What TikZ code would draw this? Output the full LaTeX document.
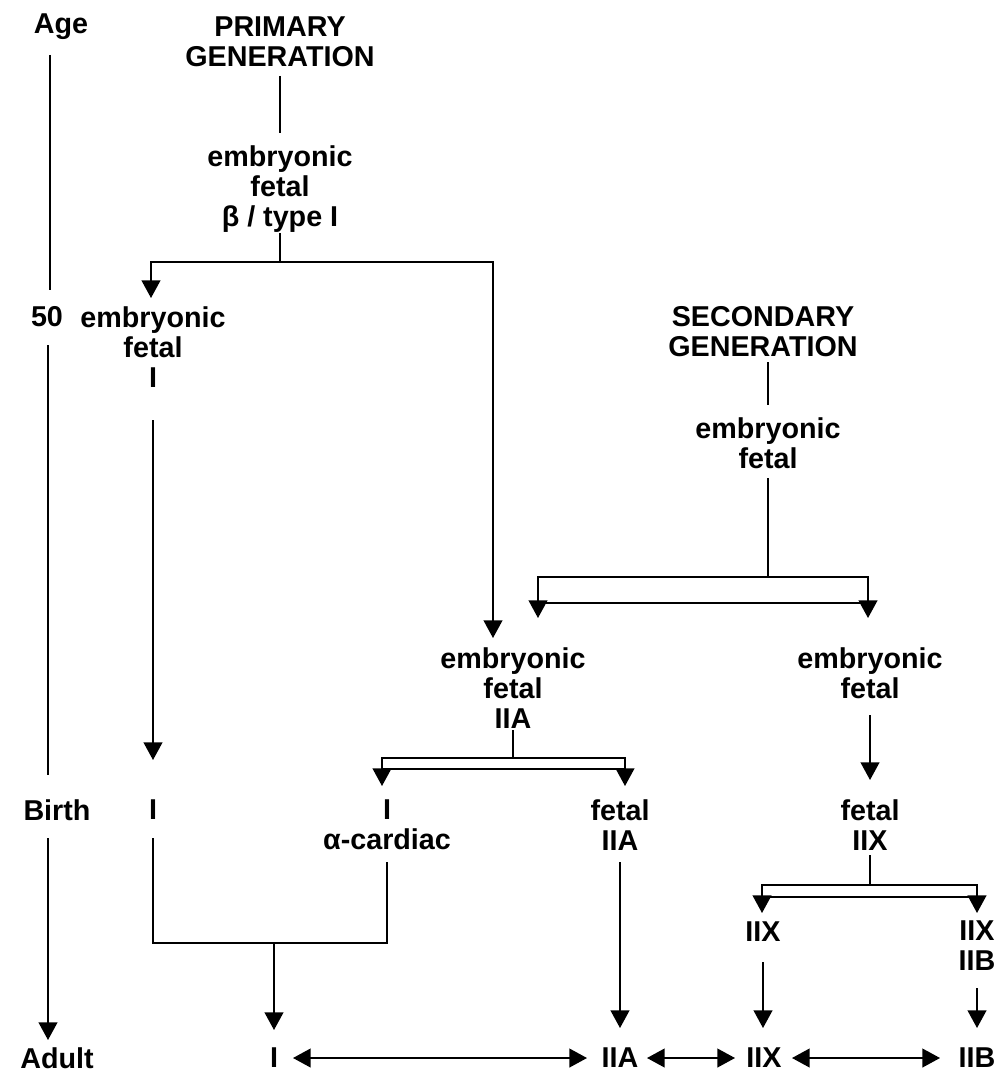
\documentclass[tikz,border=0pt]{standalone}
\usepackage{fontspec}
\setmainfont{Liberation Sans}
\usetikzlibrary{arrows.meta}
\begin{document}
\begin{tikzpicture}[x=0.03cm,y=-0.03cm,
  t/.style={inner sep=0pt, align=center, font=\fontsize{24.5}{25.6}\selectfont\bfseries},
  ln/.style={line width=1.3pt},
  ar/.style={line width=1.3pt, -{Triangle[width=16pt,length=15pt]}},
  dar/.style={line width=1.3pt, {Triangle[width=16pt,length=15pt]}-{Triangle[width=16pt,length=15pt]}}]
\useasboundingbox (0,0) rectangle (1000,1076);
% text nodes
\node[t] (age) at (61,27) {Age};
\node[t] (n50) at (47,317) {50};
\node[t] (birth) at (57,810) {Birth};
\node[t] (adult) at (57,1058) {Adult};
\node[t] (prim) at (280,42) {PRIMARY\\GENERATION};
\node[t] (pe) at (280,189) {embryonic\\fetal\\β / type I};
\node[t] (e1) at (153,347) {embryonic\\fetal\\I};
\node[t] (sec) at (763,332) {SECONDARY\\GENERATION};
\node[t] (se) at (768,443) {embryonic\\fetal};
\node[t] (e2a) at (513,688) {embryonic\\fetal\\IIA};
\node[t] (e2x) at (870,673) {embryonic\\fetal};
\node[t] (bI) at (153,810) {I};
\node[t] (bIa) at (387,825) {I\\α-cardiac};
\node[t] (bA) at (620,825) {fetal\\IIA};
\node[t] (bX) at (870,825) {fetal\\IIX};
\node[t] (x1) at (763,932) {IIX};
\node[t] (x2) at (977,946) {IIX\\IIB};
\node[t] (aI) at (274,1058) {I};
\node[t] (aA) at (620,1058) {IIA};
\node[t] (aX) at (764,1058) {IIX};
\node[t] (aB) at (977,1058) {IIB};
% coordinates
\coordinate (ageT) at (50,55); \coordinate (ageB) at (50,290);
\coordinate (fT) at (48,345); \coordinate (fB) at (48,775);
\coordinate (bT) at (48,838); \coordinate (bB) at (48,1040);
\coordinate (pT) at (280,76); \coordinate (pB) at (280,133);
\coordinate (peB) at (280,233); \coordinate (peJ) at (280,262);
\coordinate (peL) at (151,262); \coordinate (peLt) at (151,298);
\coordinate (peR) at (493,262); \coordinate (peRt) at (493,638);
\coordinate (c1T) at (153,420); \coordinate (c1B) at (153,760);
\coordinate (sT) at (768,362); \coordinate (sB) at (768,405);
\coordinate (seB) at (768,478); \coordinate (seJ) at (768,577);
\coordinate (b1L) at (538,577); \coordinate (b1R) at (868,577);
\coordinate (b1Lt) at (538,618); \coordinate (b1Rt) at (868,618);
\coordinate (b1L2) at (538,603); \coordinate (b1R2) at (868,603);
\coordinate (rxT) at (870,715); \coordinate (rxB) at (870,780);
\coordinate (iaT) at (513,730); \coordinate (iaJ) at (513,758);
\coordinate (b2L) at (382,758); \coordinate (b2R) at (625,758);
\coordinate (b2Lt) at (382,786); \coordinate (b2Rt) at (625,786);
\coordinate (b2L2) at (382,769); \coordinate (b2R2) at (625,769);
\coordinate (iT) at (153,838); \coordinate (iC) at (153,943);
\coordinate (aC) at (387,943); \coordinate (aT) at (387,862);
\coordinate (mJ) at (274,943); \coordinate (mB) at (274,1030);
\coordinate (fiT) at (620,862); \coordinate (fiB) at (620,1028);
\coordinate (xT) at (870,855); \coordinate (xJ) at (870,885);
\coordinate (b3L) at (762,885); \coordinate (b3R) at (977,885);
\coordinate (b3Lt) at (762,913); \coordinate (b3Rt) at (977,913);
\coordinate (b3L2) at (762,897); \coordinate (b3R2) at (977,897);
\coordinate (x1T) at (763,962); \coordinate (x1B) at (763,1028);
\coordinate (x2T) at (977,988); \coordinate (x2B) at (977,1028);
\coordinate (h1a) at (293,1058); \coordinate (h1b) at (587,1058);
\coordinate (h2a) at (647,1058); \coordinate (h2b) at (735,1058);
\coordinate (h3a) at (792,1058); \coordinate (h3b) at (940,1058);
% connectors
\draw[ln] (ageT) -- (ageB);
\draw[ln] (fT) -- (fB);
\draw[ar] (bT) -- (bB);
\draw[ln] (pT) -- (pB);
\draw[ln] (peB) -- (peJ);
\draw[ar] (peJ) -- (peL) -- (peLt);
\draw[ar] (peJ) -- (peR) -- (peRt);
\draw[ar] (c1T) -- (c1B);
\draw[ln] (sT) -- (sB);
\draw[ln] (seB) -- (seJ);
\draw[ar] (seJ) -- (b1L) -- (b1Lt);
\draw[ar] (seJ) -- (b1R) -- (b1Rt);
\draw[ln] (b1L2) -- (b1R2);
\draw[ar] (rxT) -- (rxB);
\draw[ln] (iaT) -- (iaJ);
\draw[ar] (iaJ) -- (b2L) -- (b2Lt);
\draw[ar] (iaJ) -- (b2R) -- (b2Rt);
\draw[ln] (b2L2) -- (b2R2);
\draw[ln] (iT) -- (iC) -- (aC) -- (aT);
\draw[ar] (mJ) -- (mB);
\draw[ar] (fiT) -- (fiB);
\draw[ln] (xT) -- (xJ);
\draw[ar] (xJ) -- (b3L) -- (b3Lt);
\draw[ar] (xJ) -- (b3R) -- (b3Rt);
\draw[ln] (b3L2) -- (b3R2);
\draw[ar] (x1T) -- (x1B);
\draw[ar] (x2T) -- (x2B);
\draw[dar] (h1a) -- (h1b);
\draw[dar] (h2a) -- (h2b);
\draw[dar] (h3a) -- (h3b);
\end{tikzpicture}
\end{document}
